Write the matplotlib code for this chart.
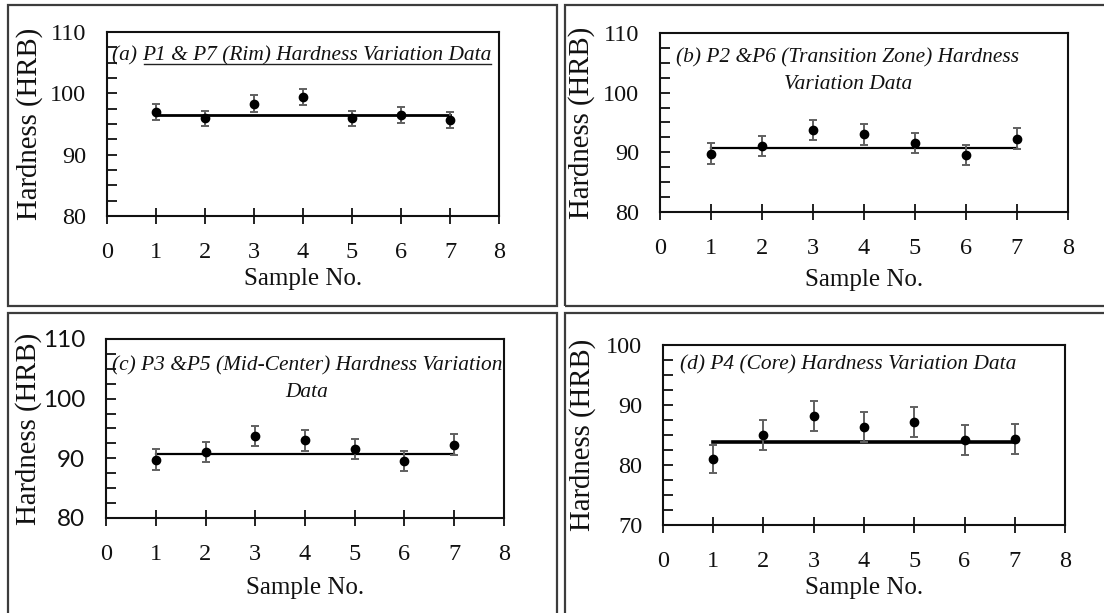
import matplotlib
matplotlib.use("Agg")
import matplotlib.pyplot as plt
from matplotlib.ticker import MultipleLocator
from matplotlib.patches import Rectangle
from matplotlib.lines import Line2D

# ---------------- data ----------------
samples = [1, 2, 3, 4, 5, 6, 7]
x_ticks = [0, 1, 2, 3, 4, 5, 6, 7, 8]

hard_a = [96.9, 95.9, 98.3, 99.4, 95.9, 96.4, 95.7]
err_a = [1.3, 1.3, 1.4, 1.3, 1.3, 1.3, 1.3]
avg_a = 96.5

hard_b = [89.8, 91.1, 93.7, 93.0, 91.6, 89.5, 92.3]
err_b = [1.7, 1.7, 1.7, 1.7, 1.7, 1.7, 1.7]
avg_b = 90.65

hard_c = [89.8, 91.1, 93.7, 93.0, 91.6, 89.5, 92.3]
err_c = [1.7, 1.7, 1.7, 1.7, 1.7, 1.7, 1.7]
avg_c = 90.65

hard_d = [81.0, 85.0, 88.1, 86.4, 87.2, 84.2, 84.4]
err_d = [2.4, 2.5, 2.5, 2.5, 2.5, 2.5, 2.5]
avg_d = 83.8

ylims = {"a": (80, 110), "b": (80, 110), "c": (80, 110), "d": (70, 100)}
yticks_a = [80, 90, 100, 110]
yticks_d = [70, 80, 90, 100]

title_a_prefix = "(a) "
title_a = "P1 & P7 (Rim) Hardness Variation Data"
title_b = "(b) P2 &P6 (Transition Zone) Hardness\nVariation Data"
title_c = "(c) P3 &P5 (Mid-Center) Hardness Variation\nData"
title_d = "(d) P4 (Core) Hardness Variation Data"

ylabel = "Hardness (HRB)"
xlabel = "Sample No."

# ---------------- figure ----------------
W, H = 1104, 613
fig = plt.figure(figsize=(W / 100, H / 100), dpi=100)
fig.patch.set_facecolor("white")

SERIF = "Liberation Serif"
plt.rcParams["font.family"] = SERIF


def px_axes(l, t, r, b):
    return [l / W, 1 - b / H, (r - l) / W, (b - t) / H]


# panel borders
border_kw = dict(fill=False, edgecolor="#3c3c3c", linewidth=1.6,
                 transform=fig.transFigure, clip_on=False)
for (l, t, r, b) in [(8, 5, 557, 306), (565, 5, 1112, 306),
                     (8, 313, 557, 625), (565, 313, 1112, 625)]:
    fig.patches.append(Rectangle((l / W, 1 - b / H), (r - l) / W, (b - t) / H, **border_kw))

panels = [
    ("a", px_axes(107, 32, 499, 216), hard_a, err_a, avg_a, yticks_a, 2.0, (-0.163, 0.5), -0.285, 13.5, SERIF),
    ("b", px_axes(660, 33, 1068, 212), hard_b, err_b, avg_b, yticks_a, 1.6, (-0.159, 0.5), -0.32, 13.0, SERIF),
    ("c", px_axes(106, 339, 504, 518), hard_c, err_c, avg_c, yticks_a, 1.6, (-0.161, 0.5), -0.33, 13.5, "Lato"),
    ("d", px_axes(663, 345, 1065, 525), hard_d, err_d, avg_d, yticks_d, 2.6, (-0.167, 0.5), -0.29, 13.0, SERIF),
]

axes = {}
for key, rect, vals, errs, avg, yt, lw, ylab_pos, xlab_y, xpad, yfont in panels:
    ax = fig.add_axes(rect)
    axes[key] = ax
    ax.errorbar(samples, vals, yerr=errs, fmt="o", color="black", markersize=6,
                ecolor="#606060", elinewidth=1.4, capsize=3.2, capthick=1.4, zorder=3)
    ax.plot([samples[0], samples[-1]], [avg, avg], color="black", linewidth=lw, zorder=2)
    ax.set_xlim(x_ticks[0], x_ticks[-1])
    ax.set_ylim(*ylims[key])
    ax.set_xticks(x_ticks)
    ax.set_yticks(yt)
    ax.yaxis.set_minor_locator(MultipleLocator(2.5))
    for s in ax.spines.values():
        s.set_linewidth(1.5)
        s.set_color("#111111")
    ax.tick_params(axis="x", which="major", direction="inout", length=11, width=1.3,
                   pad=xpad, labelsize=17.5, colors="#111111")
    ax.tick_params(axis="y", which="both", direction="in", length=7, width=1.3,
                   pad=15, labelsize=17.5, colors="#111111")
    for lab in ax.get_yticklabels():
        lab.set_fontfamily(yfont)
    ax.set_ylabel(ylabel, fontsize=20.7, color="#111111")
    ax.yaxis.set_label_coords(*ylab_pos)
    ax.set_xlabel(xlabel, fontsize=18, color="#111111")
    ax.xaxis.set_label_coords(0.5, xlab_y)

title_kw = dict(fontsize=15.4, style="italic", color="#111111")

# (a) with underline
ax = axes["a"]
t_pref = ax.text(0.012, 0.872, title_a_prefix, transform=ax.transAxes, ha="left", va="center", **title_kw)
fig.canvas.draw()
r = fig.canvas.get_renderer()
bb_pref = t_pref.get_window_extent(r)
x0_ax = ax.transAxes.inverted().transform((bb_pref.x1, bb_pref.y0))[0]
t_main = ax.text(x0_ax, 0.872, title_a, transform=ax.transAxes, ha="left", va="center", **title_kw)
fig.canvas.draw()
bb = t_main.get_window_extent(r)
inv = fig.transFigure.inverted()
p0 = inv.transform((bb.x0 + 2, bb.y0 + 1))
p1 = inv.transform((bb.x1, bb.y0 + 1))
fig.lines.append(Line2D([p0[0], p1[0]], [p0[1], p1[1]], transform=fig.transFigure,
                        color="#222222", linewidth=1.0))

axes["b"].text(0.46, 0.785, title_b, transform=axes["b"].transAxes, ha="center", va="center",
               linespacing=1.55, **title_kw)
axes["c"].text(0.505, 0.775, title_c, transform=axes["c"].transAxes, ha="center", va="center",
               linespacing=1.55, clip_on=True, **title_kw)
axes["d"].text(0.042, 0.89, title_d, transform=axes["d"].transAxes, ha="left", va="center", **title_kw)

fig.savefig("out.png", dpi=100, facecolor="white")
